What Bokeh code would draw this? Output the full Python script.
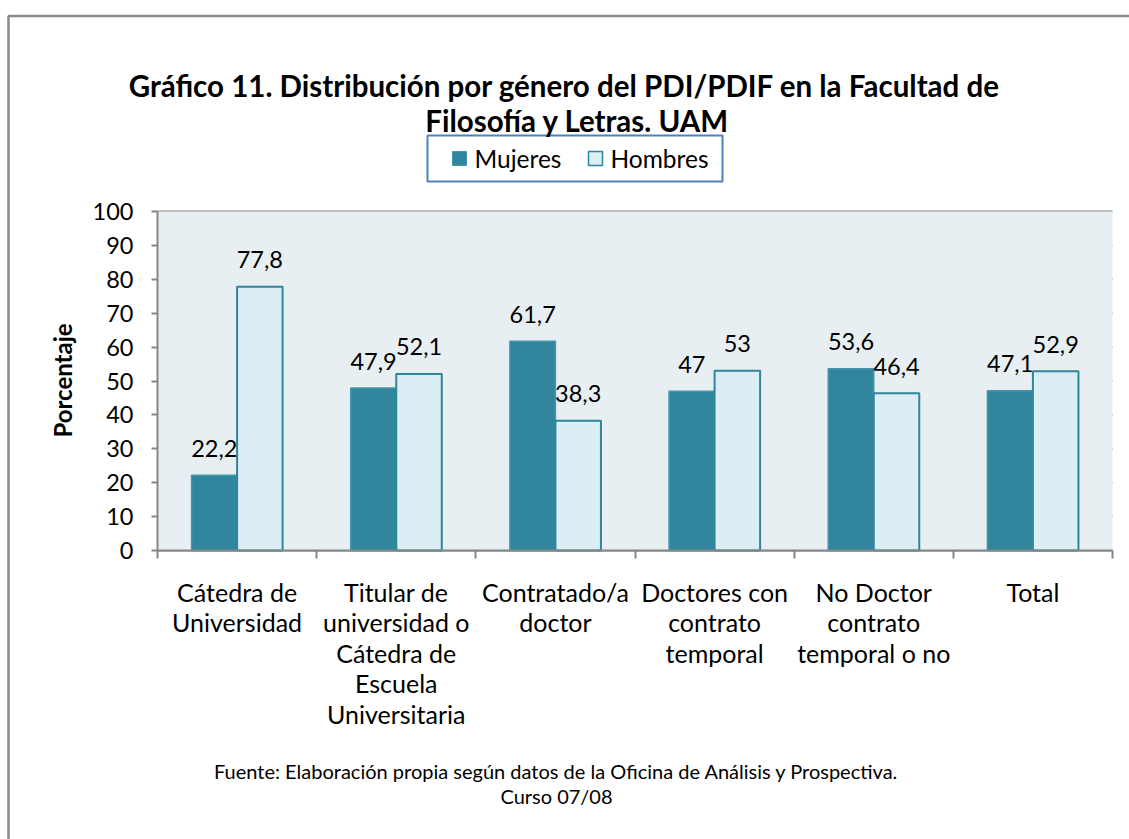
import math
from bokeh.plotting import figure
from bokeh.models import ColumnDataSource, Range1d, FixedTicker, Label, BoxAnnotation, LinearAxis
from bokeh.transform import dodge
from bokeh.core.properties import value
from bokeh.embed import file_html
from bokeh.resources import INLINE

# ---------------- data ----------------
categories = [
    "Cátedra de\nUniversidad",
    "Titular de\nuniversidad o\nCátedra de\nEscuela\nUniversitaria",
    "Contratado/a\ndoctor",
    "Doctores con\ncontrato\ntemporal",
    "No Doctor\ncontrato\ntemporal o no",
    "Total",
]
mujeres = [22.2, 47.9, 61.7, 47.0, 53.6, 47.1]
hombres = [77.8, 52.1, 38.3, 53.0, 46.4, 52.9]
series_names = ["Mujeres", "Hombres"]
y_ticks = [0, 10, 20, 30, 40, 50, 60, 70, 80, 90, 100]
title_lines = ["Gráfico 11. Distribución por género del PDI/PDIF en la Facultad de",
               "Filosofía y Letras. UAM"]
y_label = "Porcentaje"
source_lines = ["Fuente: Elaboración propia según datos de la Oficina de Análisis y Prospectiva.",
                "Curso 07/08"]

# ---------------- style ----------------
C_M = "#31859C"
C_M_LINE = "#4596AD"
C_H = "#DAEEF3"
GRID = "#868686"
PLOT_BG = "#E8EFF3"
FONT = "Lato"

W, H = 1129, 839
# plot area (inner chart) in canvas pixels
FL, FR, FT, FB = 157, 1112, 211, 550
n = len(categories)
XU = (FR - FL) / n
YU = (FB - FT) / 100.0


def dx(px):
    return (px - FL) / XU


def dy(py):
    return (FB - py) / YU


p = figure(width=W, height=H, x_range=Range1d(dx(0), dx(W)), y_range=Range1d(dy(H), dy(0)),
           output_backend="svg", toolbar_location=None,
           x_axis_location=None, y_axis_location=None,
           min_border=0, min_border_left=0, min_border_right=0,
           min_border_top=0, min_border_bottom=0)
p.background_fill_color = "white"
p.border_fill_color = "white"
p.outline_line_color = None
p.grid.visible = False

# plot-area background
p.add_layout(BoxAnnotation(left=0, right=n, bottom=0, top=100, fill_color=PLOT_BG,
                           fill_alpha=1, line_color=None, level="underlay"))
# horizontal gridlines
p.segment(x0=[0] * len(y_ticks), x1=[n] * len(y_ticks), y0=y_ticks, y1=y_ticks,
          line_color=GRID, line_width=2, level="underlay")

bw = 0.286
src = ColumnDataSource(dict(
    x=[i + 0.5 for i in range(n)],
    m=mujeres, h=hombres,
    my=[v + 27 / YU for v in mujeres],
    hy=[v + 27 / YU for v in hombres],
    mt=[f"{v:g}".replace(".", ",") for v in mujeres],
    ht=[f"{v:g}".replace(".", ",") for v in hombres],
))

p.vbar(x=dodge("x", -bw / 2, range=p.x_range), top="m", width=bw, bottom=0, source=src,
       fill_color=C_M, line_color=C_M_LINE, line_width=1.5)
p.vbar(x=dodge("x", bw / 2, range=p.x_range), top="h", width=bw, bottom=0, source=src,
       fill_color=C_H, line_color=C_M, line_width=2)

p.text(x=dodge("x", -bw / 2, range=p.x_range), y="my", text="mt", source=src,
       text_align="center", text_baseline="middle", text_font=value(FONT),
       text_font_size="23.5px", text_color="black")
p.text(x=dodge("x", bw / 2, range=p.x_range), y="hy", text="ht", source=src,
       text_align="center", text_baseline="middle", text_font=value(FONT),
       text_font_size="23.5px", text_color="black")

# axes (fixed at the plot-area edges)
yax = LinearAxis(fixed_location=0, bounds=(0, 100), ticker=FixedTicker(ticks=y_ticks))
yax.axis_line_color = GRID
yax.axis_line_width = 2
yax.major_tick_line_color = GRID
yax.major_tick_line_width = 2
yax.major_tick_out = 6
yax.major_tick_in = 0
yax.minor_tick_line_color = None
yax.major_label_text_font = FONT
yax.major_label_text_font_size = "23.5px"
yax.major_label_text_color = "black"
yax.major_label_standoff = 18
p.add_layout(yax, "left")

xax = LinearAxis(fixed_location=0, bounds=(0, n), ticker=FixedTicker(ticks=list(range(n + 1))))
xax.major_label_overrides = {i: "" for i in range(n + 1)}
xax.axis_line_color = GRID
xax.axis_line_width = 2
xax.major_tick_line_color = GRID
xax.major_tick_line_width = 2
xax.major_tick_out = 8
xax.major_tick_in = 0
xax.minor_tick_line_color = None
p.add_layout(xax, "below")

# category labels
for i, cat in enumerate(categories):
    for j, line in enumerate(cat.split("\n")):
        p.add_layout(Label(x=i + 0.5, y=dy(591 + 30.5 * j), text=line, text_align="center",
                           text_baseline="middle", text_font=FONT, text_font_size="25px",
                           text_color="black"))

# outer chart border
p.add_layout(BoxAnnotation(left=dx(8), right=dx(1400), top=dy(15.5), bottom=dy(1200),
                           fill_alpha=0, line_color="#8A8A8A", line_alpha=1, line_width=2.5))

# legend
p.add_layout(BoxAnnotation(left=dx(427), right=dx(722), top=dy(135), bottom=dy(181),
                           fill_color="white", fill_alpha=1, line_color="#4F81BD",
                           line_alpha=1, line_width=2))
p.add_layout(BoxAnnotation(left=dx(452), right=dx(466), top=dy(151), bottom=dy(165),
                           fill_color=C_M, fill_alpha=1, line_color=C_M_LINE,
                           line_alpha=1, line_width=1))
p.add_layout(BoxAnnotation(left=dx(588), right=dx(602), top=dy(151), bottom=dy(165),
                           fill_color=C_H, fill_alpha=1, line_color=C_M,
                           line_alpha=1, line_width=1.5))
p.add_layout(Label(x=dx(474), y=dy(158), text=series_names[0], text_align="left",
                   text_baseline="middle", text_font=FONT, text_font_size="24.5px",
                   text_color="black"))
p.add_layout(Label(x=dx(610), y=dy(158), text=series_names[1], text_align="left",
                   text_baseline="middle", text_font=FONT, text_font_size="24.5px",
                   text_color="black"))

# title (drawn after the legend box so nothing covers it)
p.add_layout(Label(x=dx(564), y=dy(85), text=title_lines[0], text_align="center",
                   text_baseline="middle", text_font=FONT, text_font_style="bold",
                   text_font_size="29.5px", text_color="black"))
p.add_layout(Label(x=dx(577), y=dy(120), text=title_lines[1], text_align="center",
                   text_baseline="middle", text_font=FONT, text_font_style="bold",
                   text_font_size="29.5px", text_color="black"))

# y axis title
p.add_layout(Label(x=dx(62), y=dy(380), text=y_label, angle=math.pi / 2,
                   text_align="center", text_baseline="middle", text_font=FONT,
                   text_font_style="bold", text_font_size="24px", text_color="black"))

# source note
for j, line in enumerate(source_lines):
    p.add_layout(Label(x=dx(556), y=dy(770 + 25 * j), text=line, text_align="center",
                       text_baseline="middle", text_font=FONT, text_font_size="20px",
                       text_color="black"))

open("out.html", "w").write(file_html(p, INLINE))
